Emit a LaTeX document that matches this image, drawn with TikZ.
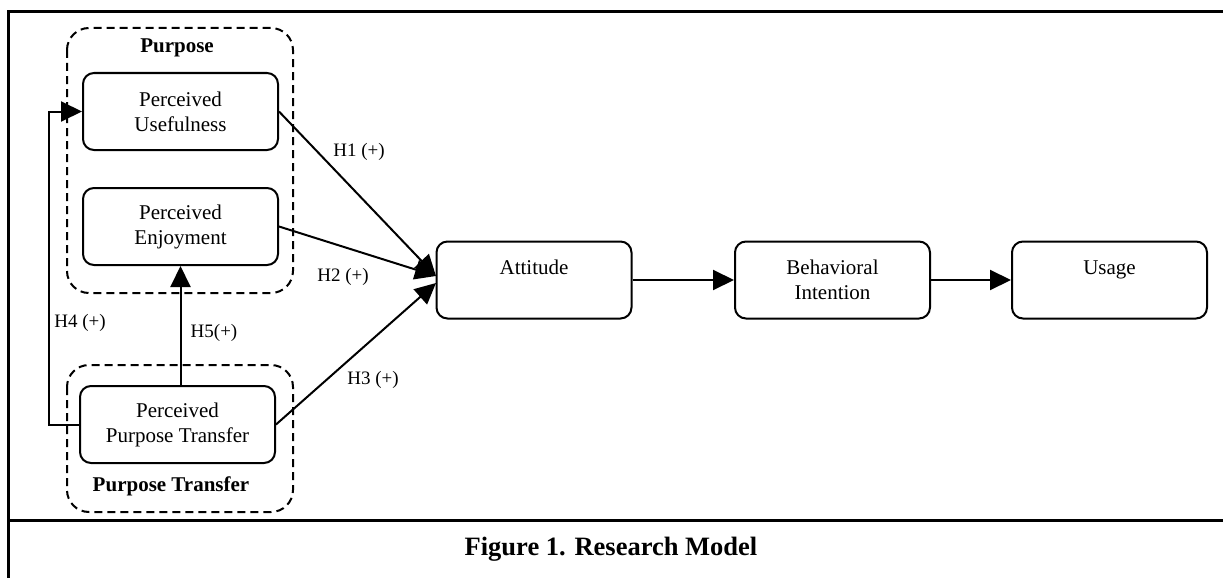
\documentclass[tikz,border=0pt]{standalone}
\usepackage{fontspec}
\setmainfont{Liberation Serif}
\usetikzlibrary{arrows.meta}
\begin{document}
\begin{tikzpicture}[x=1pt,y=-1pt,
  box/.style={draw,line width=2pt,rounded corners=11pt,minimum width=195pt,minimum height=77pt,
    align=center,inner sep=0pt,font=\fontsize{21}{25}\selectfont},
  group/.style={draw,line width=2pt,dash pattern=on 8pt off 5pt,rounded corners=22pt},
  arr/.style={line width=2pt,-{Triangle[length=21pt,width=20pt]}},
  lab/.style={font=\fontsize{19}{23}\selectfont,inner sep=0pt},
  grouplab/.style={font=\bfseries\fontsize{21}{25}\selectfont,inner sep=0pt}]
\useasboundingbox (0,0) rectangle (1223,578);
% frame
\draw[line width=3pt] (1223,12) -- (8,12) -- (8,578);
\draw[line width=3pt] (8,520) -- (1223,520);
\node[font=\bfseries\fontsize{26.5}{30}\selectfont] (cap) at (611,549) {Figure 1. Research Model};
% groups
\draw[group] (67,28) rectangle (293,293);
\draw[group] (67,365) rectangle (293,512);
\node[grouplab] (gp) at (177,48) {Purpose};
\node[grouplab] (gpt) at (171,486) {Purpose Transfer};
% boxes
\node[box] (PU) at (180.5,111.5) {Perceived\\Usefulness};
\node[box] (PE) at (180.5,226.5) {Perceived\\Enjoyment};
\node[box] (PPT) at (177.5,424.5) {Perceived\\Purpose Transfer};
\node[box] (ATT) at (534,280) {Attitude\\\mbox{}};
\node[box] (BI) at (832.5,280) {Behavioral\\Intention};
\node[box] (US) at (1109.5,280) {Usage\\\mbox{}};
% connectors
\coordinate (t1) at (436,276);
\coordinate (t3) at (436,283);
\draw[arr] (PU.east) -- (t1);
\draw[arr] (PE.east) -- (t1);
\draw[arr] (PPT.east) -- (t3);
\draw[arr] (ATT.east) -- (BI.west);
\draw[arr] (BI.east) -- (US.west);
\draw[arr] (PPT.north -| PE.south) -- (PE.south);
\draw[arr] (PPT.west) -- ++(-30,0) |- (PU.west);
% labels
\node[lab] (h1) at (359,152) {H1 (+)};
\node[lab] (h2) at (343,277) {H2 (+)};
\node[lab] (h3) at (373,380) {H3 (+)};
\node[lab] (h4) at (80,323) {H4 (+)};
\node[lab] (h5) at (214,333) {H5(+)};
\end{tikzpicture}
\end{document}
